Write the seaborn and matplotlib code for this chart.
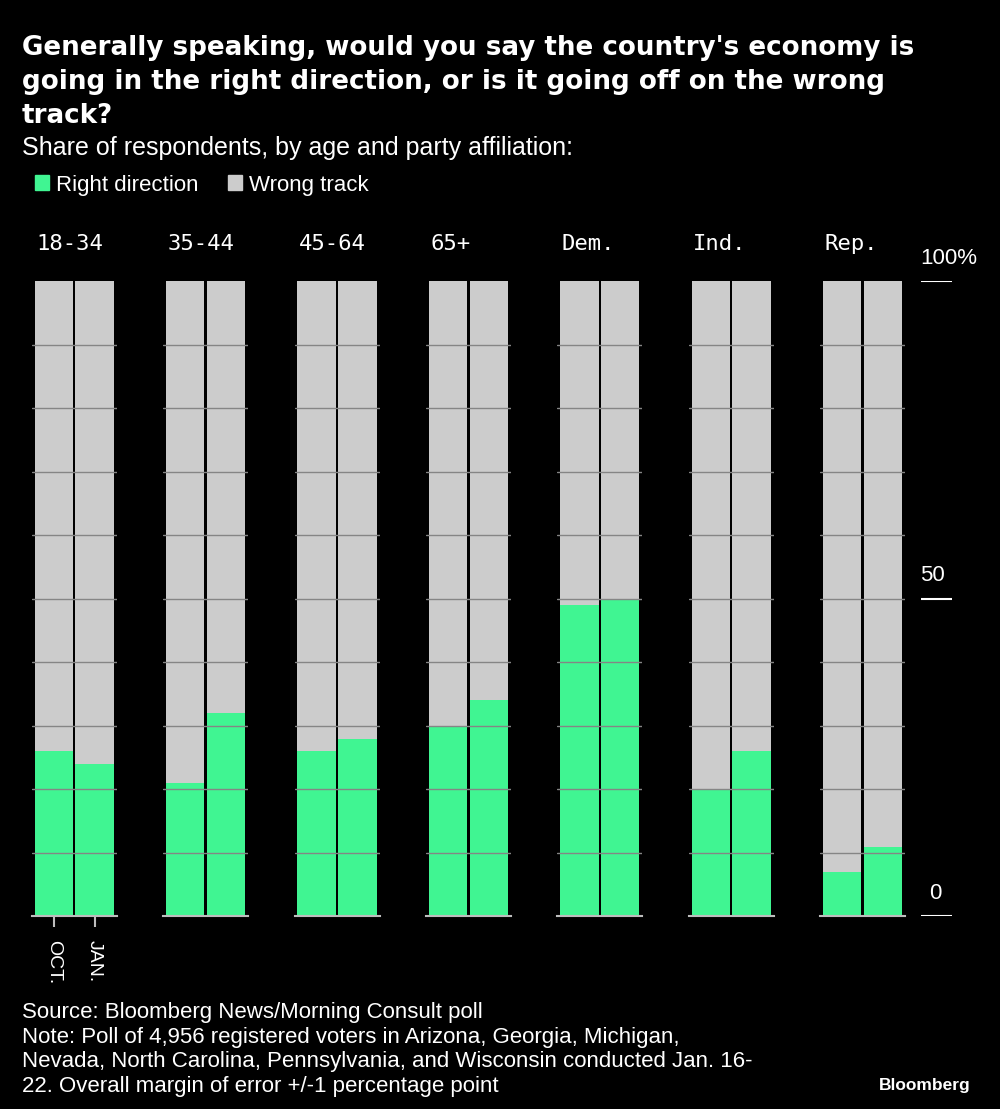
import matplotlib
matplotlib.use('Agg')
import matplotlib.pyplot as plt
import seaborn as sns
import pandas as pd
from matplotlib.patches import Patch

# Data (share saying "right direction", %)
groups = ['18-34', '35-44', '45-64', '65+', 'Dem.', 'Ind.', 'Rep.']
waves = ['OCT.', 'JAN.']
right_oct = [26, 21, 26, 30, 49, 20, 7]
right_jan = [24, 32, 28, 34, 50, 26, 11]
scale_ticks = [0, 50, 100]
scale_labels = ['0', '50', '100%']

GREEN = '#40f592'
GRAY = '#cccccc'
GRID = '#858585'
BASE = '#bdbdbd'

rows = []
for g, o, j in zip(groups, right_oct, right_jan):
    rows.append({'group': g, 'wave': 'OCT.', 'right': o})
    rows.append({'group': g, 'wave': 'JAN.', 'right': j})
df = pd.DataFrame(rows)
df['total'] = 100

sns.set_style('dark', {'axes.facecolor': 'black', 'figure.facecolor': 'black',
                       'axes.edgecolor': 'black', 'text.color': 'white',
                       'xtick.color': BASE, 'ytick.color': 'white'})
plt.rcParams['font.family'] = ['Liberation Sans', 'DejaVu Sans']

fig = plt.figure(figsize=(10, 11.09), dpi=100)

bottom = 0.1737
height = 0.5726

# One small panel per group
for i, g in enumerate(groups):
    ax = fig.add_axes([0.0317 + 0.1314 * i, bottom, 0.085, height])
    sub = df[df['group'] == g]
    sns.barplot(data=sub, x='wave', y='total', order=waves, color=GRAY,
                width=0.94, saturation=1, errorbar=None, linewidth=0, ax=ax)
    sns.barplot(data=sub, x='wave', y='right', order=waves, color=GREEN,
                width=0.94, saturation=1, errorbar=None, linewidth=0, ax=ax)
    ax.set_xlim(-0.54, 1.54)
    ax.set_ylim(0, 100)
    ax.set_yticks(range(10, 100, 10))
    ax.yaxis.grid(True, color=GRID, lw=1)
    ax.xaxis.grid(False)
    ax.set_axisbelow(False)
    ax.tick_params(axis='y', left=False, labelleft=False)
    ax.set_xlabel('')
    ax.set_ylabel('')
    for s in ['top', 'left', 'right']:
        ax.spines[s].set_visible(False)
    ax.spines['bottom'].set_color(BASE)
    ax.spines['bottom'].set_linewidth(1.5)
    if i == 0:
        ax.set_xticks([0, 1])
        ax.set_xticklabels(waves, rotation=270, fontsize=14, color='white')
        ax.tick_params(axis='x', bottom=True, length=8, width=1.5, pad=9)
    else:
        ax.tick_params(axis='x', bottom=False, labelbottom=False)
    ax.text(0.05, 1.049, g, transform=ax.transAxes, ha='left', va='baseline',
            fontsize=16, color='white', family='DejaVu Sans Mono')

# Right-hand scale
sax = fig.add_axes([0.9205, bottom, 0.031, height])
sax.set_ylim(0, 100)
sax.axis('off')
for t, lab in zip(scale_ticks, scale_labels):
    sax.axhline(t, color='white', lw=1.5)
    ha = 'center' if lab == '0' else 'left'
    x = 0.47 if lab == '0' else 0.0
    sax.annotate(lab, xy=(x, t), xycoords=('axes fraction', 'data'),
                 xytext=(0, 9), textcoords='offset points',
                 ha=ha, va='bottom', fontsize=16, color='white')

# Titles
fig.text(0.022, 1 - 35 / 1109,
         "Generally speaking, would you say the country's economy is\n"
         "going in the right direction, or is it going off on the wrong\n"
         "track?", ha='left', va='top', fontsize=18.8, fontweight='bold',
         color='white', linespacing=1.41, family='DejaVu Sans')
fig.text(0.022, 1 - 155 / 1109,
         'Share of respondents, by age and party affiliation:',
         ha='left', va='baseline', fontsize=18, color='white')

handles = [Patch(color=GREEN), Patch(color=GRAY)]
fig.legend(handles, ['Right direction', 'Wrong track'], loc='center left',
           bbox_to_anchor=(0.035, 1 - 185 / 1109), ncol=2, frameon=False,
           fontsize=16, handlelength=0.64, handleheight=0.66,
           handletextpad=0.32, columnspacing=1.3, borderpad=0,
           borderaxespad=0, labelcolor='white')

# Footer
fig.text(0.022, 1 - 1092 / 1109,
         'Source: Bloomberg News/Morning Consult poll\n'
         'Note: Poll of 4,956 registered voters in Arizona, Georgia, Michigan,\n'
         'Nevada, North Carolina, Pennsylvania, and Wisconsin conducted Jan. 16-\n'
         '22. Overall margin of error +/-1 percentage point',
         ha='left', va='baseline', fontsize=16, color='white', linespacing=1.23)
fig.text(0.971, 1 - 1090 / 1109, 'Bloomberg', ha='right', va='baseline',
         fontsize=12.5, fontweight='bold', color='white')

fig.savefig('out.png', dpi=100, facecolor='black')
